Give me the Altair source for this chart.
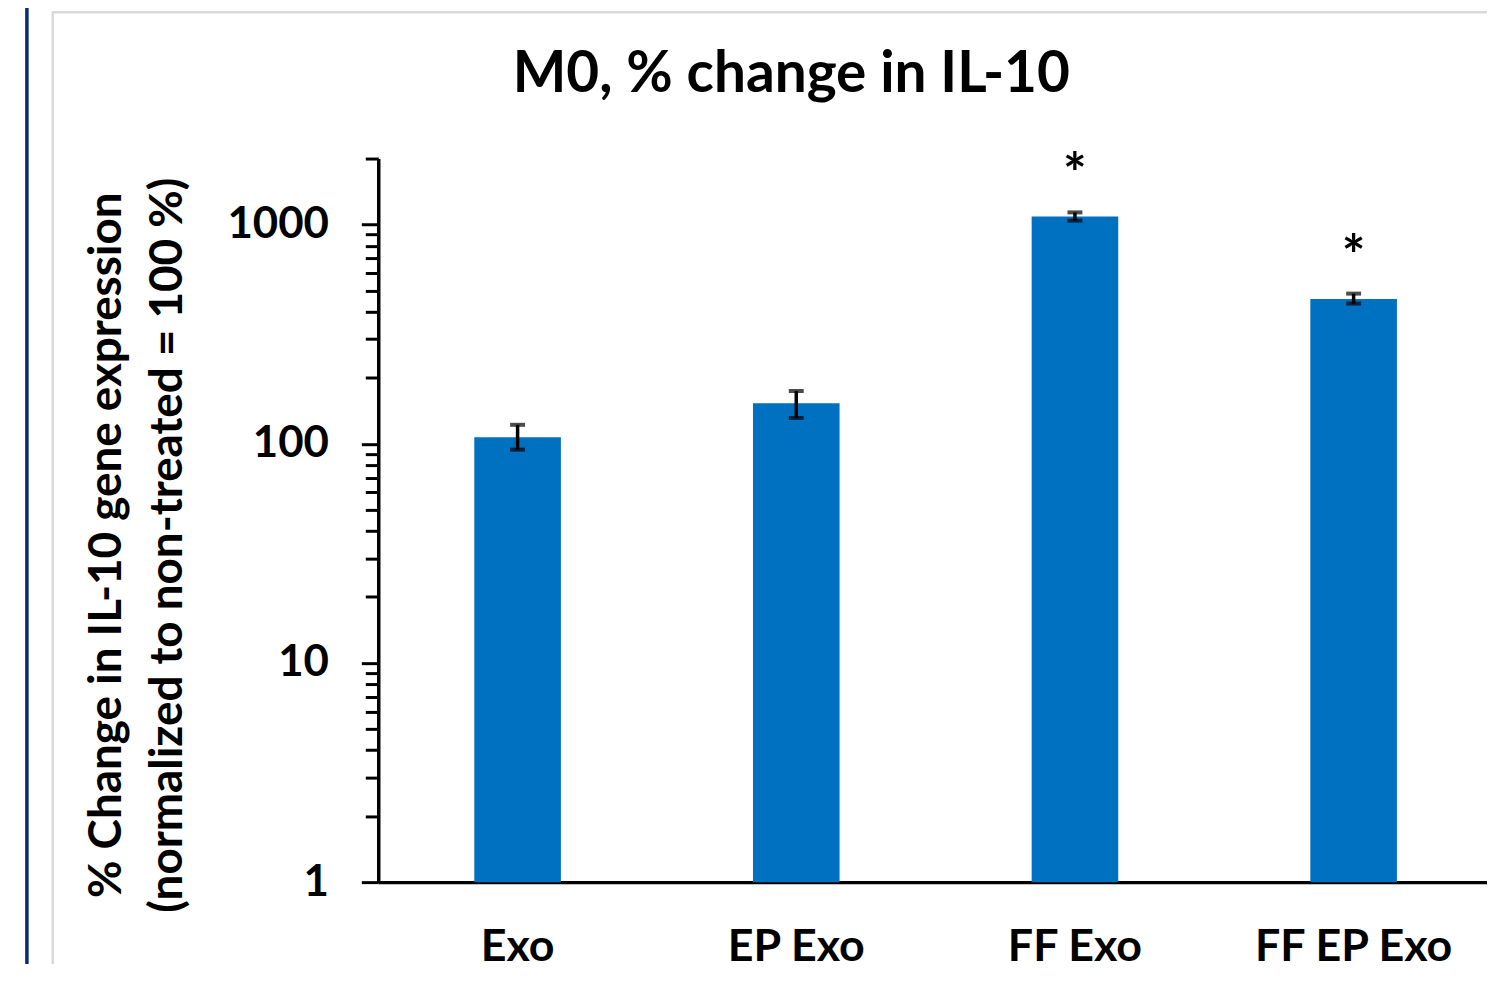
import altair as alt
import pandas as pd

categories = ["Exo", "EP Exo", "FF Exo", "FF EP Exo"]
means = [107, 153, 1087, 457]
err_hi = [122, 174, 1136, 484]
err_lo = [94, 131, 1042, 436]
stars = ["", "", "*", "*"]
title_text = "M0, % change in IL-10"

tick_values = [1, 2, 3, 4, 5, 6, 7, 8, 9,
               10, 20, 30, 40, 50, 60, 70, 80, 90,
               100, 200, 300, 400, 500, 600, 700, 800, 900,
               1000, 2000]

df = pd.DataFrame({"cat": categories, "mean": means, "hi": err_hi,
                   "lo": err_lo, "star": stars})

FONT = "Lato"

xscale = alt.Scale(paddingInner=0, paddingOuter=0)

x_enc = alt.X("cat:N", sort=categories, title=None, scale=xscale,
              axis=alt.Axis(labelAngle=0, labelFont=FONT, labelFontSize=45,
                            labelFontWeight="bold", labelColor="black",
                            labelPadding=43, labelLimit=0, ticks=False,
                            domainColor="black", domainWidth=3.5))

yscale = alt.Scale(type="log", domain=[1, 2000], nice=False)

y_axis = alt.Axis(
    values=tick_values, format="d",
    labelExpr="indexof([1,10,100,1000], datum.value) >= 0 ? datum.label : ''",
    labelOverlap=False, labelFlush=False,
    labelFont=FONT, labelFontSize=44, labelFontWeight="bold", labelColor="black",
    labelPadding=33, labelBaseline="middle",
    tickColor="black", tickWidth=3,
    tickSize={"condition": {"test": "indexof([1,10,100,1000], datum.value) >= 0", "value": 17}, "value": 13},
    domainColor="black", domainWidth=3.5, grid=False,
    title=["% Change in IL-10 gene expression", "(normalized to non-treated = 100 %)"],
    titleFont=FONT, titleFontSize=46, titleFontWeight="bold", titleColor="black",
    titleAngle=-90, titleAlign="center", titleBaseline="alphabetic",
    titleLineHeight=61, titleX=-259, titleY=388)

base = alt.Chart(df)
xcat = alt.X("cat:N", sort=categories, scale=xscale)

bars = base.mark_bar(size=87, color="#0070C0").encode(
    x=x_enc, y=alt.Y("mean:Q", scale=yscale, axis=y_axis), y2=alt.datum(1))

stem = base.mark_rule(color="black", strokeWidth=3.5).encode(
    x=xcat, y=alt.Y("lo:Q", scale=yscale), y2="hi:Q")

cap_hi = base.mark_tick(color="black", size=15, thickness=4).encode(
    x=xcat, y=alt.Y("hi:Q", scale=yscale))
cap_lo = base.mark_tick(color="black", size=15, thickness=4).encode(
    x=xcat, y=alt.Y("lo:Q", scale=yscale))

star_txt = base.mark_text(font=FONT, fontSize=56, fontWeight="bold", color="black",
                          baseline="alphabetic", dy=-19).encode(
    x=xcat, y=alt.Y("hi:Q", scale=yscale), text="star:N")

deco = pd.DataFrame({"a": [0]})
frame = alt.Chart(deco).mark_rect(fill="transparent", stroke="#d9d9d9", strokeWidth=2.5).encode(
    x=alt.value(-327), x2=alt.value(1400), y=alt.value(-147), y2=alt.value(1000))
navy = alt.Chart(deco).mark_rule(color="#0B2A6F", strokeWidth=3.5).encode(
    x=alt.value(-353), y=alt.value(-200), y2=alt.value(1000))
title_mark = alt.Chart(deco).mark_text(font=FONT, fontSize=57, fontWeight="bold",
                                       color="black", align="center",
                                       baseline="alphabetic").encode(
    x=alt.value(415), y=alt.value(-67), text=alt.value(title_text))

chart = alt.layer(frame, navy, bars, stem, cap_hi, cap_lo, star_txt, title_mark).properties(
    width=1120, height=727,
    autosize=alt.AutoSizeParams(type="none"),
    padding={"left": 372, "top": 149, "right": -6, "bottom": 80},
).configure_view(stroke=None)

chart.save("out.html", embed_options={"renderer": "svg", "actions": False})
